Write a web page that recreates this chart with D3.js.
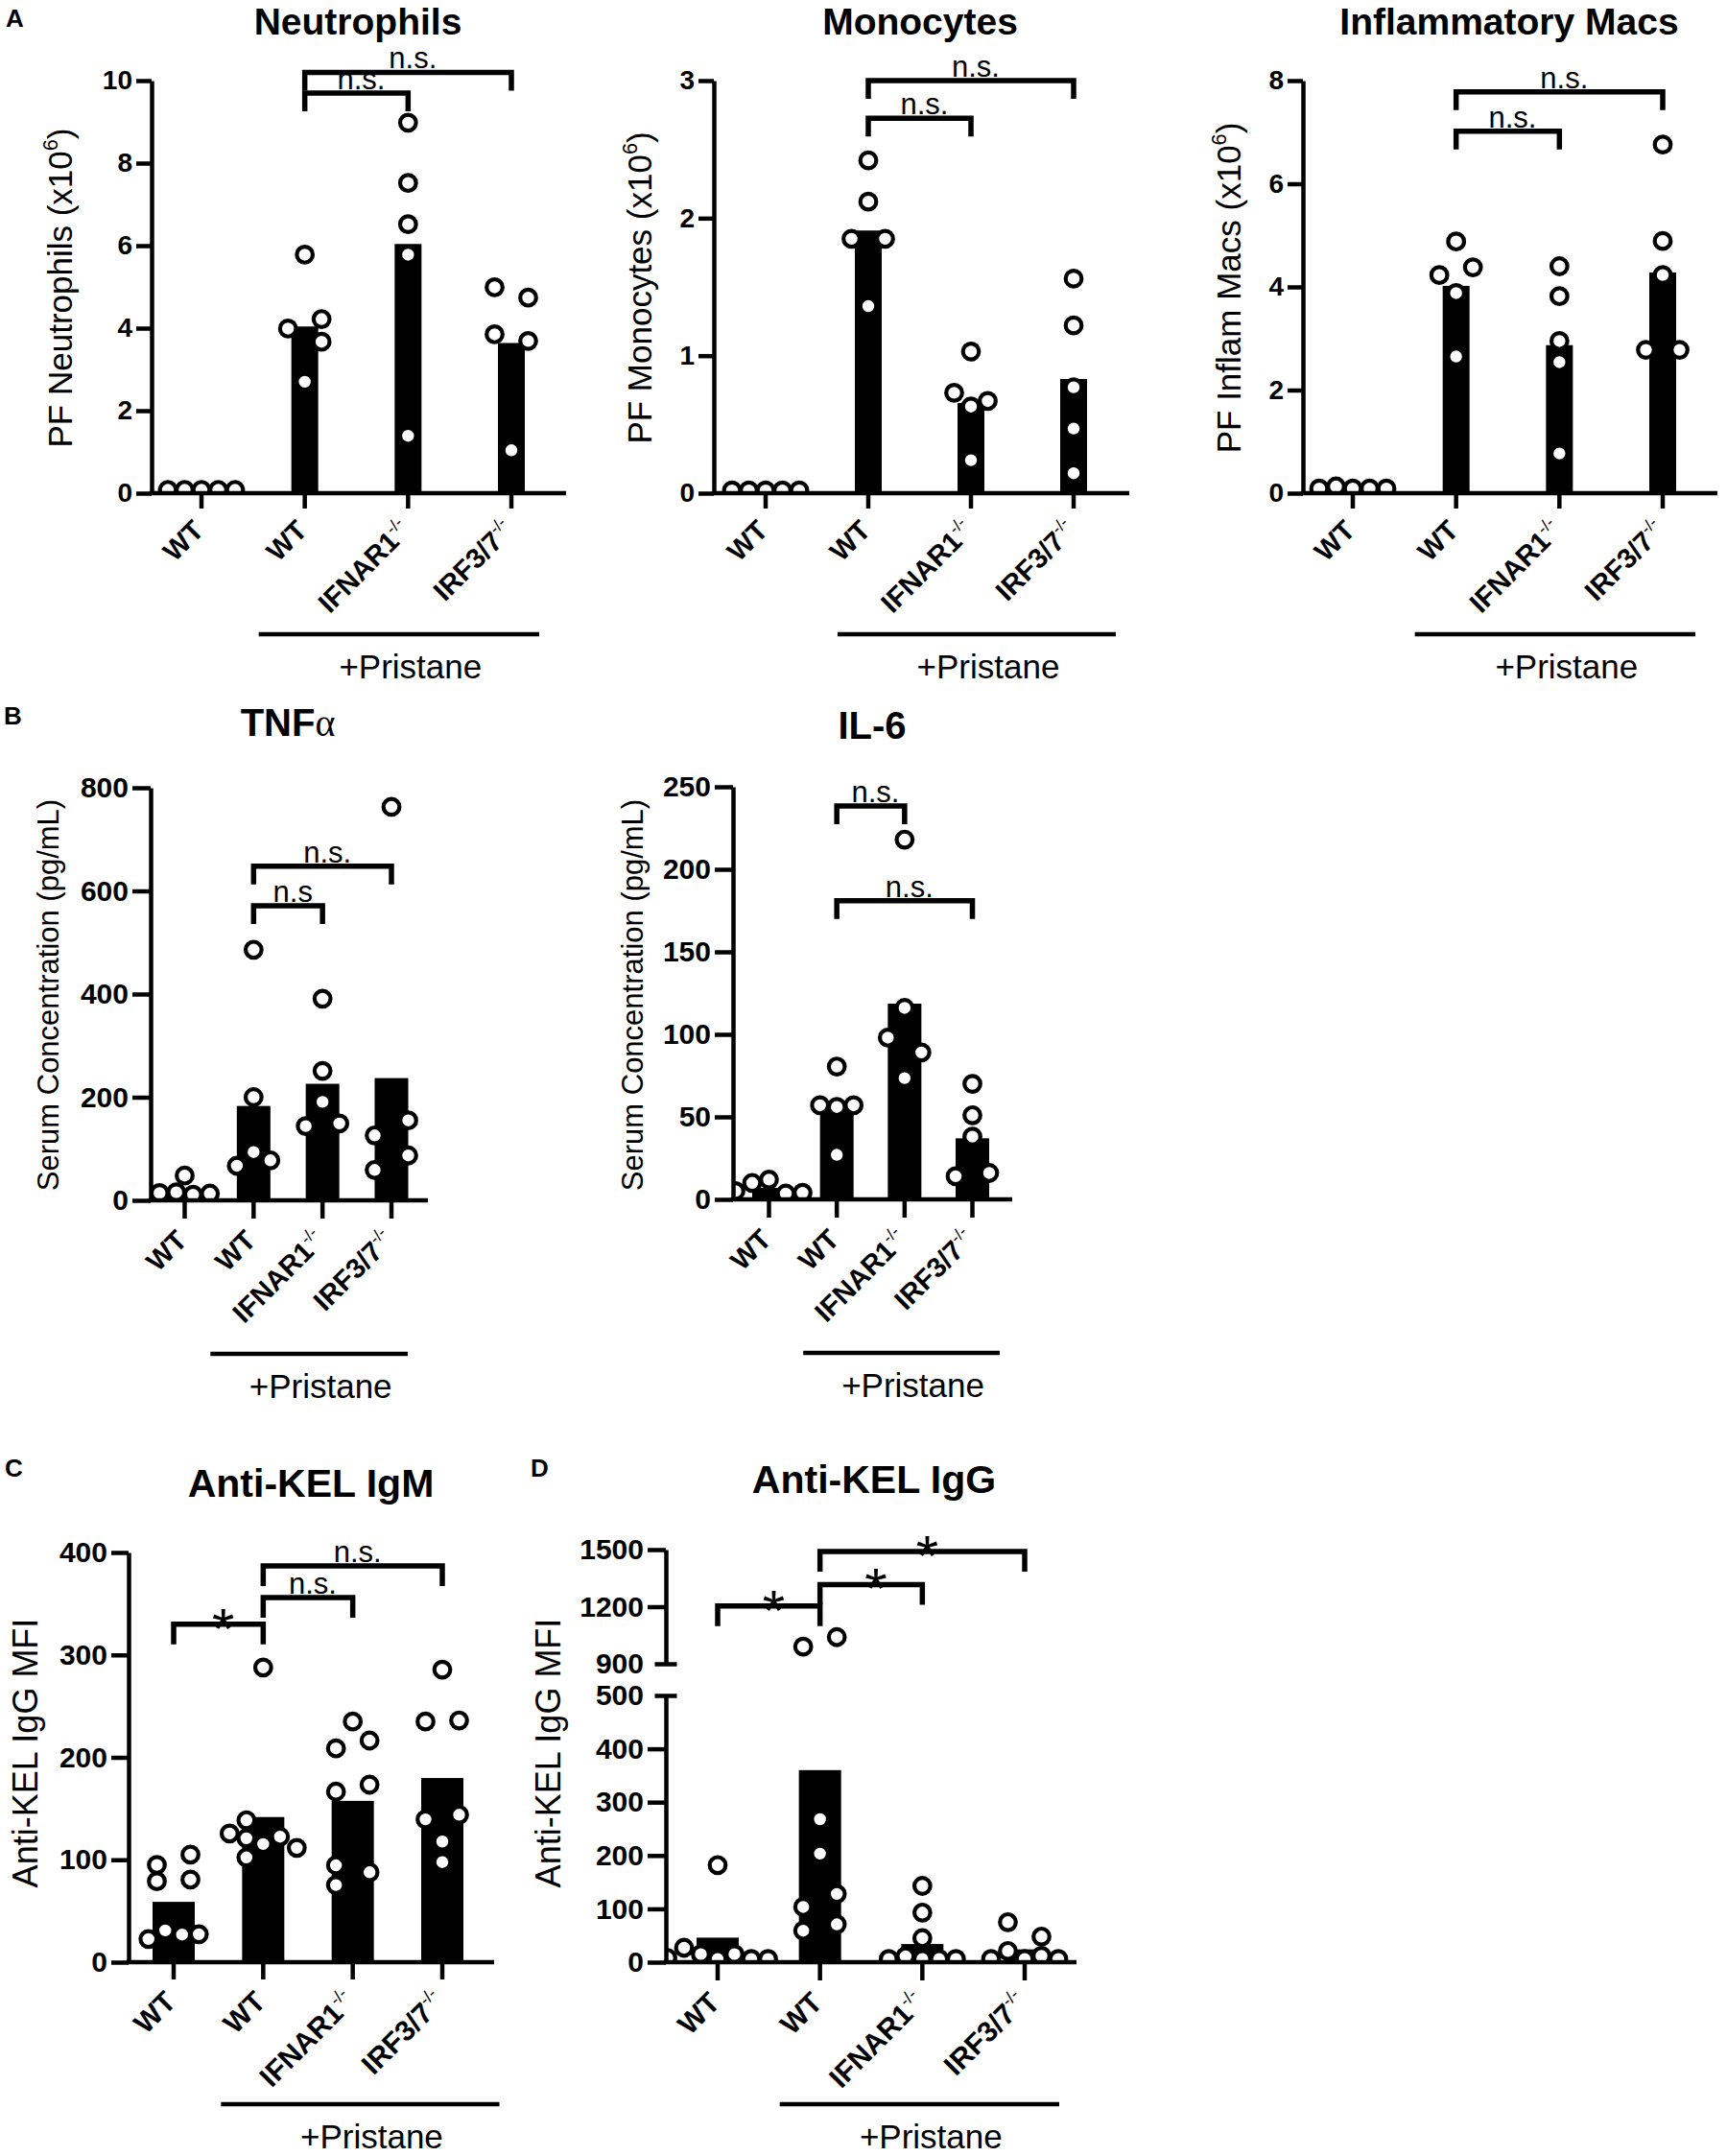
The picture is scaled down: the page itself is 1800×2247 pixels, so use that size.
<!DOCTYPE html>
<html>
<head>
<meta charset="utf-8">
<script src="https://cdn.jsdelivr.net/npm/d3@7"></script>
<style>
  body { margin: 0; background: #fff; }
  svg { display: block; background: #fff; }
</style>
</head>
<body>
<div id="fig"></div>
<script>
// group names, shared by every panel
var catNames = ["WT", "WT", "IFNAR1", "IRF3/7"];
var catSup = ["", "", "-/-", "-/-"];

// A - peritoneal fluid cells (x10^6), one array per group
var neutroPts = [[0.08, 0.08, 0.08, 0.08, 0.08], [5.78, 3.99, 4.22, 3.67, 2.7], [8.98, 7.52, 6.52, 5.78, 1.39], [4.99, 4.74, 3.85, 3.69, 1.04]];
var neutroBars = [0.06, 4.04, 6.04, 3.64];
var neutroTicks = [0, 2, 4, 6, 8, 10];
var neutroSig = [[1, 2, 9.7, "n.s."], [1, 3, 10.2, "n.s."]];

var monoPts = [[0.02, 0.02, 0.02, 0.02, 0.02], [2.42, 2.12, 1.85, 1.85, 1.36], [1.03, 0.73, 0.67, 0.63, 0.24], [1.56, 1.22, 0.77, 0.47, 0.145]];
var monoBars = [0.02, 1.91, 0.655, 0.83];
var monoTicks = [0, 1, 2, 3];
var monoSig = [[1, 2, 2.726, "n.s."], [1, 3, 3.0, "n.s."]];

var macPts = [[0.13, 0.09, 0.09, 0.09, 0.09], [4.88, 4.23, 4.38, 3.88, 2.65], [4.4, 3.82, 2.95, 2.54, 0.77], [6.76, 4.89, 4.23, 2.78, 2.78]];
var macBars = [0.05, 4.02, 2.87, 4.28];
var macTicks = [0, 2, 4, 6, 8];
var macSig = [[1, 2, 7.02, "n.s."], [1, 3, 7.78, "n.s."]];

// B - serum cytokines (pg/mL)
var tnfPts = [[48, 15.5, 13, 11, 14], [486, 200, 67, 77.6, 93.6], [391, 251, 191, 144, 149], [763, 126, 155, 59, 87]];
var tnfBars = [20, 183, 226, 237];
var tnfTicks = [0, 200, 400, 600, 800];
var tnfSig = [[1, 2, 571, "n.s"], [1, 3, 648, "n.s."]];

var il6Pts = [[10, 3.5, 12, 5, 4], [80.5, 57, 57, 56, 27], [218, 116, 98, 89, 73.5], [70, 51, 38, 14, 16]];
var il6Bars = [7, 55.5, 118.6, 37];
var il6Ticks = [0, 50, 100, 150, 200, 250];
var il6Sig = [[1, 2, 238.4, "n.s."], [1, 3, 181, "n.s."]];

// C - anti-KEL IgM MFI
var igmPts = [[79, 80.6, 95, 105, 31, 27.3, 27, 22.6], [287.7, 138.6, 121, 122.5, 115.3, 125.6, 111.6, 102.3], [235, 208.7, 216.4, 166.5, 173.3, 94.6, 87.8, 75.3], [285.6, 235, 236, 139.5, 144, 117.8, 97.7]];
var igmBars = [58.9, 141.7, 157.5, 179.8];
var igmTicks = [0, 100, 200, 300, 400];
var igmSig = [[0, 1, 330, "*"], [1, 2, 356, "n.s."], [1, 3, 387, "n.s."]];

// D - anti-KEL IgG MFI (broken axis 500 / 900)
var iggPts = [[182, 15, 15, 6, 27, 6, 8, 6], [990, 1040, 268, 203.5, 103.5, 128, 59, 71], [143, 93, 45, 11, 6, 6, 6, 6], [75, 48, 21, 12, 6, 6, 6]];
var iggBars = [46, 360, 34, 24];
var iggTicks = [0, 100, 200, 300, 400, 500];
var iggTicksHi = [900, 1200, 1500];
var iggSig = [[0, 1, 1204, "*"], [1, 2, 1316, "*"], [1, 3, 1490, "*"]];

var FONT = '"Liberation Sans", Arial, Helvetica, sans-serif';
var AXW = 4.5;      // axis stroke
var SIGW = 5.5;     // bracket stroke
var DOT_R = 8.3;
var DOT_W = 4.2;
var STEP = 17.5;    // horizontal spacing of scattered dots
var MIND = 17;      // closest two dot centres may get

var svg = d3.select("#fig").append("svg")
  .attr("width", 1800)
  .attr("height", 2247)
  .attr("font-family", FONT);

// spread points sideways so they don't sit on top of each other
function dodge(vals, yFn) {
  var ys = vals.map(yFn);
  var near = ys.map(function(yv, i) {
    return ys.some(function(yw, j) { return j !== i && Math.abs(yw - yv) < MIND; });
  });
  var sideFirst = [-1, 1, 0, -2, 2, -3, 3, -4, 4];
  var centreFirst = [0, -1, 1, -2, 2, -3, 3, -4, 4];
  var out = [];
  vals.forEach(function(v, i) {
    var order = near[i] ? sideFirst : centreFirst;
    for (var k = 0; k < order.length; k++) {
      var dx = order[k] * STEP;
      var free = out.every(function(p) { return Math.hypot(p.dx - dx, p.y - ys[i]) >= MIND; });
      if (free) { out.push({ v: v, y: ys[i], dx: dx }); return; }
    }
    out.push({ v: v, y: ys[i], dx: 0 });
  });
  // even sized stacks get centred again
  var idx = d3.range(out.length).sort(function(a, b) { return out[a].y - out[b].y; });
  var run = [idx[0]];
  function flush() {
    if (run.length > 1 && run.length % 2 === 0) {
      var m = d3.mean(run, function(j) { return out[j].dx; });
      run.forEach(function(j) { out[j].dx -= m; });
    }
  }
  for (var k = 1; k < idx.length; k++) {
    if (out[idx[k]].y - out[idx[k - 1]].y < MIND) run.push(idx[k]);
    else { flush(); run = [idx[k]]; }
  }
  flush();
  return out;
}

var clipCount = 0;

function drawPanel(cfg, pts, bars, ticks, sig, ticksHi) {
  var g = svg.append("g");
  var x = d3.scalePoint().domain(d3.range(catNames.length)).range([cfg.c0, cfg.c3]);

  var lo = d3.scaleLinear()
    .domain([ticks[0], ticks[ticks.length - 1]])
    .range([cfg.y0, ticksHi ? cfg.yLo : cfg.yTop]);
  var hi = null;
  if (ticksHi) {
    hi = d3.scaleLinear()
      .domain([ticksHi[0], ticksHi[ticksHi.length - 1]])
      .range([cfg.yHi, cfg.yTop]);
  }
  var y = function(v) { return hi && v > lo.domain()[1] ? hi(v) : lo(v); };

  // panel letter + title
  if (cfg.letter) {
    g.append("text").attr("x", cfg.letterX).attr("y", cfg.letterY)
      .attr("font-size", 26).attr("font-weight", "bold").text(cfg.letter);
  }
  var tt = g.append("text").attr("x", cfg.titleX).attr("y", cfg.titleY)
    .attr("text-anchor", "middle").attr("font-size", cfg.titleSize).attr("font-weight", "bold");
  tt.append("tspan").text(cfg.title);
  if (cfg.titleTail) {
    tt.append("tspan").attr("font-weight", "normal")
      .attr("font-family", '"Liberation Serif", "DejaVu Serif", serif')
      .text(cfg.titleTail);
  }

  // bars
  g.selectAll(".bar").data(bars).join("rect")
    .attr("class", "bar")
    .attr("x", function(d, i) { return x(i) - cfg.bw / 2; })
    .attr("y", function(d) { return y(d); })
    .attr("width", cfg.bw)
    .attr("height", function(d) { return cfg.y0 - y(d); })
    .attr("fill", "#000");

  // dots, clipped to the plotting area like the original
  var cid = "clip" + (clipCount++);
  g.append("clipPath").attr("id", cid).append("rect")
    .attr("x", cfg.ax).attr("y", 0)
    .attr("width", 1800).attr("height", cfg.y0);
  var dots = g.append("g").attr("clip-path", "url(#" + cid + ")");
  pts.forEach(function(vals, i) {
    var placed = dodge(vals, y);
    dots.selectAll(".dot" + i).data(placed).join("circle")
      .attr("class", "dot" + i)
      .attr("cx", function(d) { return x(i) + d.dx; })
      .attr("cy", function(d) { return d.y; })
      .attr("r", DOT_R)
      .attr("fill", "#fff")
      .attr("stroke", "#000")
      .attr("stroke-width", DOT_W);
  });

  // y axis (one or two segments)
  var parts = [[lo, ticks]];
  if (hi) parts.push([hi, ticksHi]);
  parts.forEach(function(p) {
    var ax = g.append("g")
      .attr("transform", "translate(" + cfg.ax + ",0)")
      .call(d3.axisLeft(p[0]).tickValues(p[1]).tickFormat(d3.format("d"))
        .tickSize(cfg.tick).tickSizeOuter(0).tickPadding(4));
    ax.attr("font-size", cfg.tickFont).attr("font-family", FONT).attr("font-weight", "bold");
    ax.select(".domain").attr("stroke", "#000").attr("stroke-width", AXW);
    ax.selectAll(".tick line").attr("stroke", "#000").attr("stroke-width", AXW);
    ax.selectAll(".tick text").attr("fill", "#000");
    if (hi) {
      // break marks cross the axis
      ax.selectAll(".tick").filter(function(d) { return d === lo.domain()[1] || d === hi.domain()[0]; })
        .select("line").attr("x1", 11.5).attr("x2", -11.5);
    }
  });

  // x axis
  g.append("line")
    .attr("x1", cfg.ax - AXW / 2).attr("x2", cfg.xEnd)
    .attr("y1", cfg.y0).attr("y2", cfg.y0)
    .attr("stroke", "#000").attr("stroke-width", AXW);
  g.selectAll(".xt").data(d3.range(catNames.length)).join("line")
    .attr("class", "xt")
    .attr("x1", function(i) { return x(i); }).attr("x2", function(i) { return x(i); })
    .attr("y1", cfg.y0).attr("y2", cfg.y0 + cfg.tick)
    .attr("stroke", "#000").attr("stroke-width", AXW);

  // x labels, rotated
  catNames.forEach(function(name, i) {
    var px = x(i) + 4;
    var py = cfg.y0 + cfg.tick + 10 + 0.5 * cfg.labFont;
    var t = g.append("text")
      .attr("transform", "translate(" + px + "," + py + ") rotate(-45)")
      .attr("text-anchor", "end")
      .attr("font-size", cfg.labFont)
      .attr("font-weight", "bold");
    t.append("tspan").text(name);
    if (catSup[i]) {
      t.append("tspan").attr("font-size", cfg.labFont * 0.6).attr("font-weight", "normal")
        .attr("dy", -cfg.labFont * 0.42).text(catSup[i]);
    }
  });

  // y label
  var yl = g.append("text")
    .attr("transform", "translate(" + cfg.yLabX + "," + cfg.yLabY + ") rotate(-90)")
    .attr("text-anchor", "middle")
    .attr("font-size", cfg.yLabFont);
  yl.append("tspan").attr("dy", "0.35em").text(cfg.yLab[0]);
  if (cfg.yLab.length > 1) {
    yl.append("tspan").attr("font-size", cfg.yLabFont * 0.62).attr("dy", -0.45 * cfg.yLabFont).text(cfg.yLab[1]);
    yl.append("tspan").attr("dy", 0.45 * cfg.yLabFont).text(cfg.yLab[2]);
  }

  // "+Pristane" underline
  var lx1 = x(1) - cfg.lineL;
  var lx2 = x(3) + cfg.lineR;
  var ly = cfg.y0 + cfg.lineDy;
  g.append("line")
    .attr("x1", lx1).attr("x2", lx2).attr("y1", ly).attr("y2", ly)
    .attr("stroke", "#000").attr("stroke-width", AXW);
  g.append("text")
    .attr("x", (lx1 + lx2) / 2 + 12).attr("y", ly + 46)
    .attr("text-anchor", "middle").attr("font-size", 35)
    .text("+Pristane");

  // significance brackets
  sig.forEach(function(s) {
    var xa = x(s[0]), xb = x(s[1]), yy = y(s[2]);
    g.append("path")
      .attr("d", "M" + xa + "," + (yy + cfg.leg) + "V" + yy + "H" + xb + "V" + (yy + cfg.leg))
      .attr("fill", "none").attr("stroke", "#000")
      .attr("stroke-width", SIGW).attr("stroke-linejoin", "miter");
    var star = s[3] === "*";
    g.append("text")
      .attr("x", (xa + xb) / 2 + 5)
      .attr("y", star ? yy + 25 : yy - 4)
      .attr("text-anchor", "middle")
      .attr("font-size", star ? 60 : 31)
      .text(s[3]);
  });
}

var rowA = { y0: 514, yTop: 84, bw: 28, tick: 16, tickFont: 28, labFont: 29, yLabY: 300, yLabFont: 35,
  lineDy: 147, leg: 19, titleY: 36, titleSize: 39 };
var rowB = { y0: 1251, yTop: 821, bw: 35, tick: 19, tickFont: 30, labFont: 29, yLabY: 1037, yLabFont: 31,
  lineDy: 160, leg: 19, titleSize: 40 };
var rowC = { y0: 2045, bw: 44, tick: 18, tickFont: 30, labFont: 30, yLabY: 1827, yLabFont: 36,
  lineDy: 150, leg: 21, titleSize: 41 };

function cfgOf(base, extra) { return Object.assign({}, base, extra); }

drawPanel(cfgOf(rowA, { letter: "A", letterX: 6, letterY: 28, title: "Neutrophils", titleX: 373,
  ax: 158, xEnd: 590, c0: 210, c3: 533, yLab: ["PF Neutrophils (x10", "6", ")"], yLabX: 63, lineL: 48, lineR: 29 }),
  neutroPts, neutroBars, neutroTicks, neutroSig);

drawPanel(cfgOf(rowA, { title: "Monocytes", titleX: 959,
  ax: 744, xEnd: 1177, c0: 798, c3: 1119, yLab: ["PF Monocytes (x10", "6", ")"], yLabX: 667, lineL: 32, lineR: 44 }),
  monoPts, monoBars, monoTicks, monoSig);

drawPanel(cfgOf(rowA, { title: "Inflammatory Macs", titleX: 1573,
  ax: 1358, xEnd: 1790, c0: 1410, c3: 1733, yLab: ["PF Inflam Macs (x10", "6", ")"], yLabX: 1281, lineL: 43, lineR: 34 }),
  macPts, macBars, macTicks, macSig);

drawPanel(cfgOf(rowB, { letter: "B", letterX: 4, letterY: 755, title: "TNF", titleTail: "\u03b1", titleX: 300, titleY: 767,
  ax: 157, xEnd: 446, c0: 192.5, c3: 408, yLab: ["Serum Concentration (pg/mL)"], yLabX: 50, lineL: 45, lineR: 17 }),
  tnfPts, tnfBars, tnfTicks, tnfSig);

drawPanel(cfgOf(rowB, { y0: 1250, yTop: 820, title: "IL-6", titleX: 909, titleY: 770,
  ax: 764, xEnd: 1055, c0: 801.5, c3: 1013.5, yLab: ["Serum Concentration (pg/mL)"], yLabX: 659, lineL: 35, lineR: 28.5 }),
  il6Pts, il6Bars, il6Ticks, il6Sig);

drawPanel(cfgOf(rowC, { letter: "C", letterX: 5, letterY: 1539, title: "Anti-KEL IgM", titleX: 324, titleY: 1560,
  yTop: 1618, ax: 134, xEnd: 515, c0: 181, c3: 461, yLab: ["Anti-KEL IgG MFI"], yLabX: 26, lineL: 44, lineR: 59.5, lineDy: 148 }),
  igmPts, igmBars, igmTicks, igmSig);

drawPanel(cfgOf(rowC, { letter: "D", letterX: 553, letterY: 1539, title: "Anti-KEL IgG", titleX: 911, titleY: 1556,
  yLo: 1767, yHi: 1734, yTop: 1615, tick: 19, ax: 694, xEnd: 1122, c0: 748, c3: 1068,
  yLab: ["Anti-KEL IgG MFI"], yLabX: 571, lineL: 42, lineR: 36, lineDy: 148 }),
  iggPts, iggBars, iggTicks, iggSig, iggTicksHi);
</script>
</body>
</html>
